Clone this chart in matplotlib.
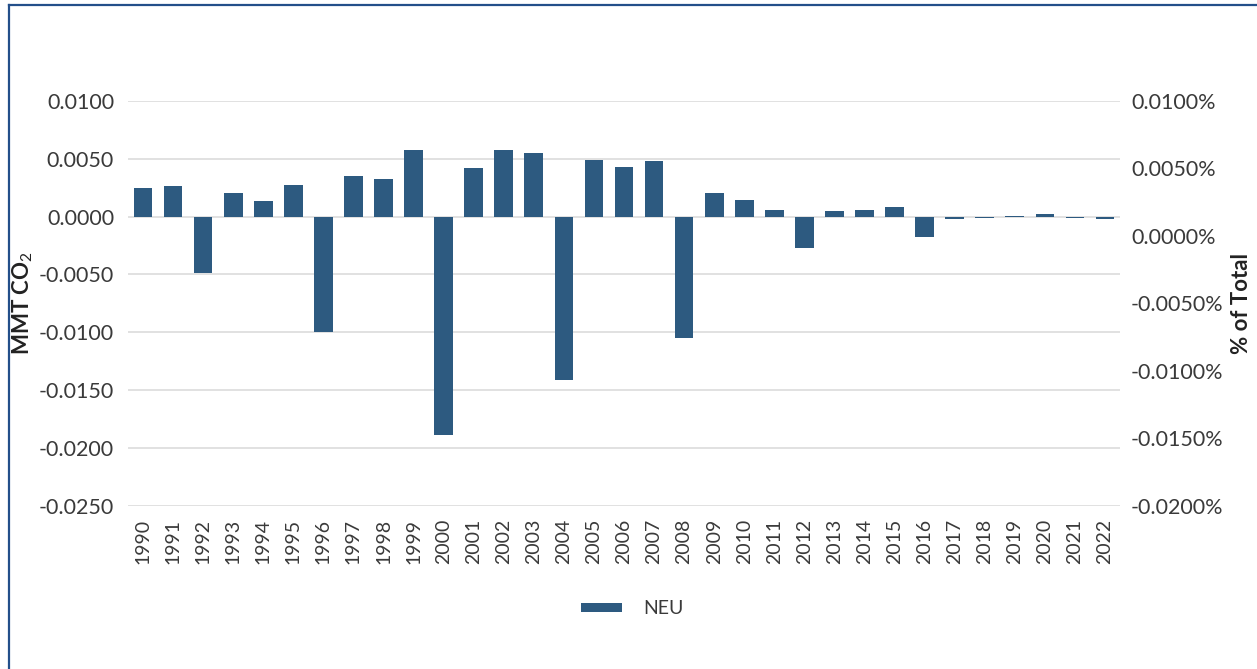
import matplotlib

matplotlib.use("Agg")
import matplotlib.pyplot as plt  # noqa: E402
from matplotlib.lines import Line2D  # noqa: E402
from matplotlib.ticker import FuncFormatter, MultipleLocator  # noqa: E402


years = [str(y) for y in range(1990, 2023)]
neu_mmt = [
    0.0025, 0.0026, -0.0049, 0.0020, 0.0013, 0.0027, -0.0100, 0.0035, 0.0032, 0.0057,
    -0.0189, 0.0042, 0.0057, 0.0055, -0.0141, 0.0049, 0.0043, 0.0048, -0.0105, 0.0020,
    0.0014, 0.0006, -0.0027, 0.0005, 0.0006, 0.0008, -0.0018, -0.0002, -0.0001, 0.00002,
    0.0002, -0.0001, -0.0002,
]
series_name = "NEU"

BAR_COLOR = "#2d5a80"
GRID_COLOR = "#dedede"
TEXT_COLOR = "#3a3a3a"
FRAME_COLOR = "#234f8a"

plt.rcParams["font.family"] = ["Lato", "DejaVu Sans"]
plt.rcParams["mathtext.fontset"] = "custom"
plt.rcParams["mathtext.rm"] = "Lato"


def fmt_value(v, suffix=""):
    if abs(v) < 1e-9:
        v = 0.0
    return f"{v:.4f}{suffix}"


W, H = 1257, 669
fig = plt.figure(figsize=(W / 100, H / 100), dpi=100)

left, right, top, bottom = 128, 1120, 100.7, 506
ax = fig.add_axes([left / W, 1 - bottom / H, (right - left) / W, (bottom - top) / H])

x = range(len(years))
ax.bar(x, neu_mmt, width=0.62, color=BAR_COLOR, label=series_name, zorder=3)
ax.set_xlim(-0.5, len(years) - 0.5)
ax.set_ylim(-0.025, 0.01)
ax.yaxis.set_major_locator(MultipleLocator(0.005))
ax.yaxis.set_major_formatter(FuncFormatter(lambda v, _: fmt_value(v)))
ax.grid(axis="y", color=GRID_COLOR, linewidth=1.3, zorder=0)
ax.set_xticks(list(x))
ax.set_xticklabels(years, rotation=90, fontsize=14, color=TEXT_COLOR)
ax.tick_params(axis="both", length=0)
ax.tick_params(axis="y", labelsize=15.5, labelcolor=TEXT_COLOR, pad=10)
ax.tick_params(axis="x", pad=9)
for spine in ax.spines.values():
    spine.set_visible(False)

ax2 = ax.twinx()
ax2.set_ylim(-0.02, 0.01)
ax2.yaxis.set_major_locator(MultipleLocator(0.005))
ax2.yaxis.set_major_formatter(FuncFormatter(lambda v, _: fmt_value(v, "%")))
ax2.tick_params(axis="y", length=0, labelsize=15.5, labelcolor=TEXT_COLOR, pad=8)
for spine in ax2.spines.values():
    spine.set_visible(False)

fig.text(23 / W, 1 - 303 / H, r"MMT CO$_2$", rotation=90, ha="center", va="center",
         fontsize=16, fontweight="bold", color="#222222")
fig.text(1242 / W, 1 - 303 / H, "% of Total", rotation=90, ha="center", va="center",
         fontsize=16, fontweight="bold", color="#222222")

fig.legend(loc="center", bbox_to_anchor=(632 / W, 1 - 609 / H), frameon=False,
           fontsize=14, handlelength=2.1, handleheight=0.36, handletextpad=1.1,
           labelcolor=TEXT_COLOR)

# blue frame around the card (left and top edges are visible)
fig.add_artist(Line2D([8.5 / W, 8.5 / W], [0, 1 - 5 / H], transform=fig.transFigure,
                      color=FRAME_COLOR, linewidth=1.6))
fig.add_artist(Line2D([8.5 / W, 1], [1 - 5 / H, 1 - 5 / H], transform=fig.transFigure,
                      color=FRAME_COLOR, linewidth=1.6))

fig.savefig("out.png", dpi=100)
plt.close(fig)
